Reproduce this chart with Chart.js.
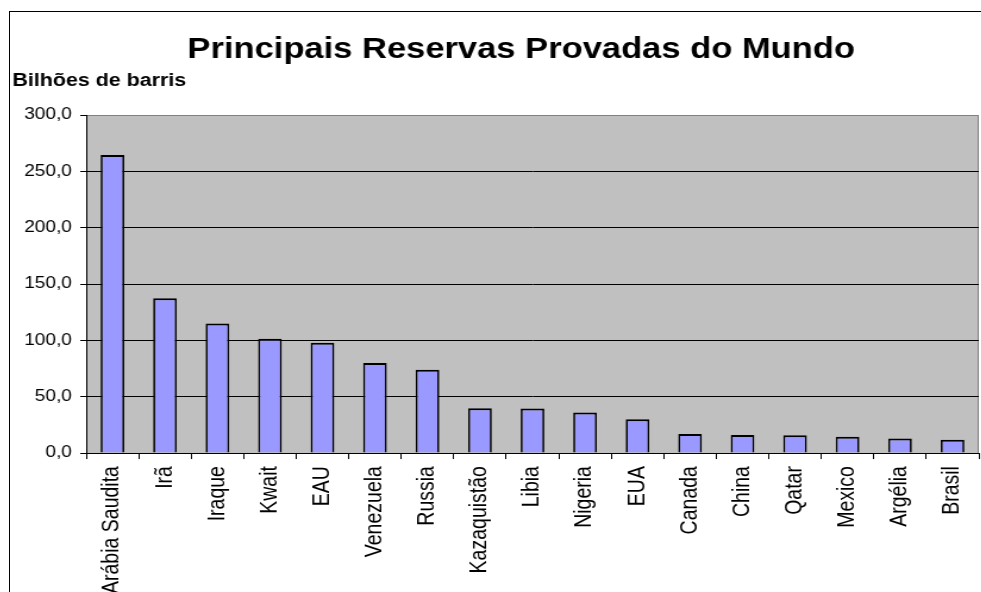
<!DOCTYPE html>
<html>
<head>
<meta charset="utf-8">
<script src="https://cdn.jsdelivr.net/npm/chart.js@4"></script>
<style>
  html, body { margin: 0; padding: 0; overflow: hidden; background: #fff; }
  .frame {
    position: absolute; left: 9px; top: 11px;
    width: 1020px; height: 620px;
    border: 1px solid #000; overflow: hidden;
  }
  /* the sheet is drawn slightly wide, like the old spreadsheet export */
  #chart { display: block; transform: scaleX(1.1902); transform-origin: 0 0; }
</style>
</head>
<body>
<div class="frame">
  <canvas id="chart" width="857" height="600"></canvas>
</div>
<script>
const countries = [
  'Arábia Saudita', 'Irã', 'Iraque', 'Kwait', 'EAU', 'Venezuela', 'Russia',
  'Kazaquistão', 'Libia', 'Nigeria', 'EUA', 'Canada', 'China', 'Qatar',
  'Mexico', 'Argélia', 'Brasil'
];
// bilhões de barris
const reserves = [
  264.5, 137.5, 115.0, 101.5, 98.0, 80.0, 74.0,
  39.8, 39.5, 36.0, 30.0, 17.0, 16.0, 15.8,
  14.5, 13.0, 11.8
];
const yMin = 0;
const yMax = 300;
const yStep = 50;

const FONT = 'Arial, "Liberation Sans", sans-serif';

// grey plot area with a thin grey frame
const plotArea = {
  id: 'plotArea',
  beforeDraw(chart) {
    const {ctx, chartArea: a} = chart;
    ctx.save();
    ctx.fillStyle = '#c0c0c0';
    ctx.fillRect(a.left, a.top, a.width, a.height);
    ctx.strokeStyle = '#808080';
    ctx.lineWidth = 1;
    ctx.strokeRect(Math.round(a.left) + 0.5, Math.round(a.top) + 0.5,
      Math.round(a.width) - 1, Math.round(a.height));
    ctx.restore();
  }
};

new Chart(document.getElementById('chart'), {
  type: 'bar',
  data: {
    labels: countries,
    datasets: [{
      data: reserves,
      backgroundColor: '#9999ff',
      borderColor: '#000',
      borderWidth: {top: 2, right: 1.7, bottom: 0, left: 1.7},
      barPercentage: 0.45,
      categoryPercentage: 1
    }]
  },
  options: {
    responsive: false,
    animation: false,
    layout: { padding: {top: 0, left: 2, right: 0, bottom: 11} },
    plugins: {
      legend: { display: false },
      tooltip: { enabled: false },
      title: {
        display: true,
        text: 'Principais Reservas Provadas do Mundo',
        color: '#000',
        font: { family: FONT, size: 29, weight: 'bold' },
        padding: {top: 21, bottom: 0}
      },
      subtitle: {
        display: true,
        text: 'Bilhões de barris',
        align: 'start',
        color: '#000',
        font: { family: FONT, size: 18, weight: 'bold' },
        padding: {top: 2, bottom: 23.6}
      }
    },
    scales: {
      x: {
        offset: true,
        grid: {
          offset: true,
          drawOnChartArea: false,
          color: '#000',
          tickLength: 6
        },
        border: { color: '#000', width: 1 },
        ticks: {
          autoSkip: false,
          minRotation: 90,
          maxRotation: 90,
          padding: 7,
          color: '#000',
          font: { family: FONT, size: 19.5 }
        }
      },
      y: {
        min: yMin,
        max: yMax,
        afterFit(scale) { scale.width = 62; },
        grid: {
          color: c => (c.tick && c.tick.value === yMax ? '#808080' : '#000'),
          tickColor: '#000',
          tickLength: 5,
          lineWidth: 1
        },
        border: { color: '#000', width: 1 },
        ticks: {
          stepSize: yStep,
          padding: 7,
          color: '#000',
          font: { family: FONT, size: 16 },
          callback: v => v.toFixed(1).replace('.', ',')
        }
      },
      // empty right-hand margin so the title stays centred on the sheet
      gutter: {
        type: 'linear',
        position: 'right',
        afterFit(scale) { scale.width = 43; },
        grid: { display: false },
        border: { display: false },
        ticks: { display: false }
      }
    }
  },
  plugins: [plotArea]
});
</script>
</body>
</html>
